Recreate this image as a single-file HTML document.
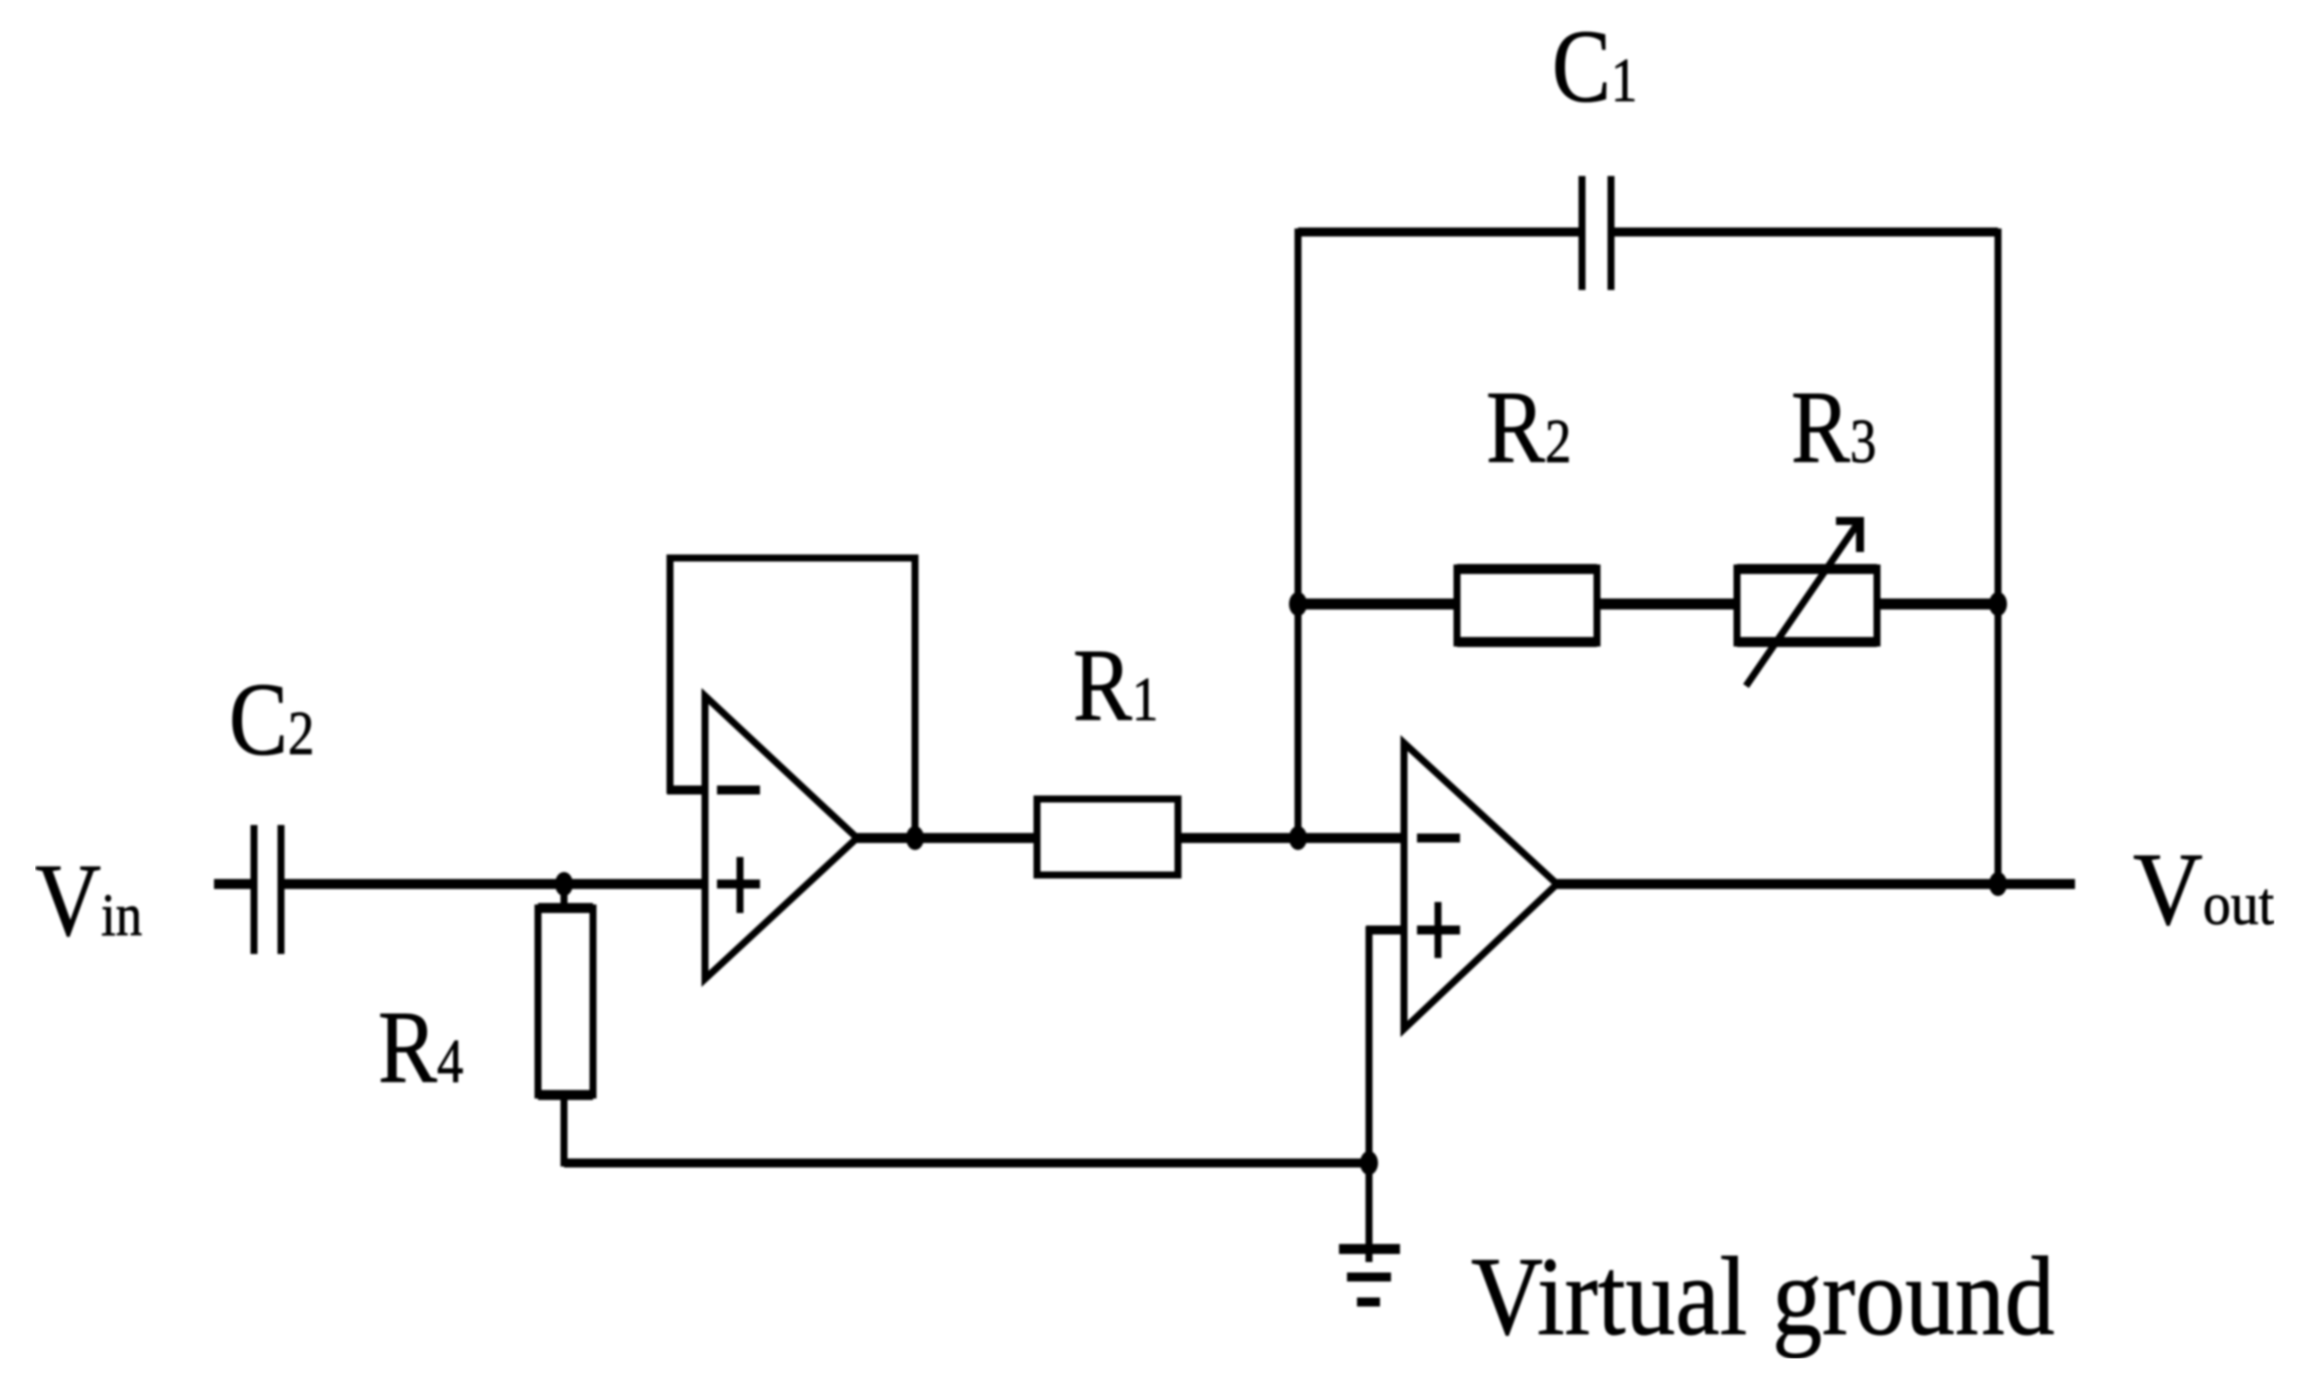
<!DOCTYPE html>
<html><head><meta charset="utf-8"><style>
html,body{margin:0;padding:0;background:#fff;width:2310px;height:1400px;overflow:hidden}
svg{display:block}
text{font-family:"Liberation Serif",serif;fill:#000}
</style></head><body>
<svg width="2310" height="1400" viewBox="0 0 2310 1400" xmlns="http://www.w3.org/2000/svg">
<defs><filter id="b" x="0" y="0" width="100%" height="100%"><feGaussianBlur stdDeviation="1"/></filter></defs>
<g fill="none" stroke="#050505" stroke-width="7" stroke-linejoin="miter" filter="url(#b)">
<!-- input -->
<path d="M214 884H254M281 884H705" stroke-width="10"/>
<path d="M254 825V954M281 825V954"/>
<path d="M564 884V908"/>
<rect x="538" y="908" width="55" height="187"/>
<path d="M538 908H593M538 1095H593" stroke-width="10"/>
<path d="M564 1095V1163H1369"/>
<path d="M564 1163H1369" stroke-width="9"/>
<!-- opamp 1 -->
<path d="M705 696V979L857 838Z"/>
<path d="M705 790H667" stroke-width="9"/>
<path d="M717 790H760M717 884H760" stroke-width="9"/>
<path d="M740 857V913"/>
<path d="M705 790H670V558H915V838"/>
<path d="M857 838H1037M1178 838H1404" stroke-width="10"/>
<rect x="1037" y="799" width="141" height="76"/>
<!-- opamp 2 -->
<path d="M1404 743V1029L1557 884Z"/>
<path d="M1417 838H1460M1417 930H1460" stroke-width="9"/>
<path d="M1438 902V958"/>
<path d="M1557 884H2075" stroke-width="10"/>
<path d="M1404 930H1369V1262"/>
<path d="M1404 930H1366" stroke-width="9"/>
<path d="M1339 1249H1400" stroke-width="10"/>
<path d="M1347 1277H1391" stroke-width="9"/>
<path d="M1357 1302H1380" stroke-width="9"/>
<!-- feedback -->
<path d="M1298 838V232H1582M1611 232H1998V884"/>
<path d="M1298 232H1582M1611 232H1998" stroke-width="9"/>
<path d="M1582 176V290M1611 176V290"/>
<path d="M1298 604H1456M1597 604H1736M1877 604H1998" stroke-width="11"/>
<rect x="1457" y="568" width="140" height="75"/>
<rect x="1737" y="568" width="140" height="75"/>
<path d="M1457 569H1597M1457 642H1597M1737 569H1877M1737 642H1877" stroke-width="10"/>
<path d="M1746 686L1858 523"/>
<path d="M1836 521H1860V552" stroke-width="8"/>
<g fill="#000" stroke="none">
<ellipse cx="564" cy="884" rx="9" ry="12"/><ellipse cx="915" cy="838" rx="9" ry="12"/><ellipse cx="1298" cy="838" rx="9" ry="12"/>
<ellipse cx="1298" cy="604" rx="9" ry="12"/><ellipse cx="1998" cy="604" rx="9" ry="12"/><ellipse cx="1998" cy="884" rx="9" ry="12"/>
<ellipse cx="1369" cy="1163" rx="9" ry="12"/>
</g>
<g stroke="#000" stroke-width="0.8" fill="#000">
<text transform="translate(1552,101) scale(.85,1)" font-size="104">C<tspan font-size="62">1</tspan></text>
<text transform="translate(229,754) scale(.85,1)" font-size="104">C<tspan font-size="62">2</tspan></text>
<text transform="translate(1073,720) scale(.85,1)" font-size="104">R<tspan font-size="62">1</tspan></text>
<text transform="translate(1486,462) scale(.85,1)" font-size="104">R<tspan font-size="62">2</tspan></text>
<text transform="translate(1791,462) scale(.85,1)" font-size="104">R<tspan font-size="62">3</tspan></text>
<text transform="translate(378,1082) scale(.85,1)" font-size="104">R<tspan font-size="62">4</tspan></text>
<text transform="translate(35,935) scale(.88,1)" font-size="104">V<tspan font-size="60">in</tspan></text>
<text transform="translate(2133,924) scale(.93,1)" font-size="104">V<tspan font-size="60">out</tspan></text>
<text transform="translate(1471,1334) scale(.89,1)" font-size="112">Virtual ground</text>
</g>
</g>
</svg>
</body></html>
